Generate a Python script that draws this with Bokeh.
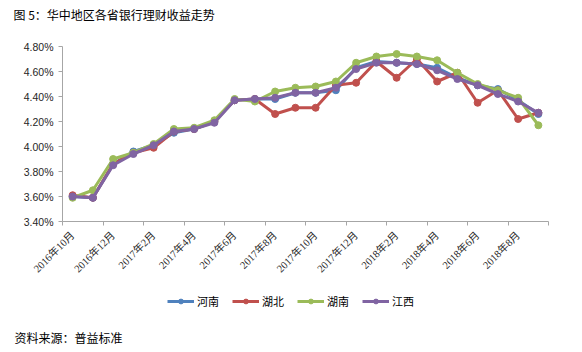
from bokeh.plotting import figure
from bokeh.layouts import column, row
from bokeh.models import (Legend, LegendItem, LinearAxis, FixedTicker, Spacer,
                          PrintfTickFormatter, Range1d, ColumnDataSource)
from bokeh.core.properties import value
from bokeh.embed import file_html
from bokeh.resources import INLINE

months = ["2016年10月", "2016年11月", "2016年12月", "2017年1月", "2017年2月", "2017年3月",
          "2017年4月", "2017年5月", "2017年6月", "2017年7月", "2017年8月", "2017年9月",
          "2017年10月", "2017年11月", "2017年12月", "2018年1月", "2018年2月", "2018年3月",
          "2018年4月", "2018年5月", "2018年6月", "2018年7月", "2018年8月", "2018年9月"]
henan = [3.60, 3.59, 3.86, 3.96, 4.01, 4.11, 4.14, 4.20, 4.37, 4.38, 4.38, 4.43,
         4.43, 4.45, 4.63, 4.68, 4.67, 4.66, 4.63, 4.55, 4.49, 4.46, 4.37, 4.26]
hubei = [3.61, 3.59, 3.86, 3.95, 3.99, 4.12, 4.14, 4.20, 4.37, 4.38, 4.26, 4.31,
         4.31, 4.49, 4.51, 4.68, 4.55, 4.70, 4.52, 4.59, 4.35, 4.45, 4.22, 4.27]
hunan = [3.59, 3.65, 3.90, 3.95, 4.02, 4.14, 4.15, 4.21, 4.38, 4.36, 4.44, 4.47,
         4.48, 4.52, 4.67, 4.72, 4.74, 4.72, 4.69, 4.59, 4.50, 4.45, 4.39, 4.17]
jiangxi = [3.60, 3.59, 3.85, 3.94, 4.01, 4.12, 4.14, 4.19, 4.37, 4.38, 4.39, 4.43,
           4.43, 4.47, 4.62, 4.67, 4.67, 4.66, 4.61, 4.54, 4.49, 4.42, 4.36, 4.27]
series_names = ["河南", "湖北", "湖南", "江西"]
colors = ["#4F81BD", "#C0504D", "#9BBB59", "#8064A2"]
y_ticks = [3.4, 3.6, 3.8, 4.0, 4.2, 4.4, 4.6, 4.8]
title_text = "图 5：华中地区各省银行理财收益走势"
source_text = "资料来源：普益标准"

CJK = "'Noto Sans CJK SC'"
SERIF = "'Liberation Serif', 'Noto Sans CJK SC'"
W = 582
series = [henan, hubei, hunan, jiangxi]


def blank_fig(h, width=W, fill="white"):
    # pixel-like coordinates, y measured upward from the bottom of this strip
    f = figure(width=width, height=h, output_backend="svg", toolbar_location=None,
               x_range=Range1d(0, width), y_range=Range1d(0, h),
               min_border=0, x_axis_location=None, y_axis_location=None)
    f.frame_align = False
    f.outline_line_color = None
    f.xgrid.visible = False
    f.ygrid.visible = False
    f.border_fill_color = fill
    f.background_fill_color = fill
    return f


def rule_row(h=2):
    # a thin black band from x=10 to x=568
    band = blank_fig(h, width=558, fill="#000000")
    return row(Spacer(width=10, height=h), band, Spacer(width=14, height=h), spacing=0)


# ---- title strip (27 px) + rule ----
top = blank_fig(27)
top.text(x=[13], y=[13.5], text=[title_text], text_font=value(CJK),
         text_font_size="12px", text_color="#000000", text_baseline="middle")

# ---- main chart (from y=29 to y=282) ----
n = len(months)
xs = list(range(n))
p = figure(width=W, height=253, output_backend="svg", toolbar_location=None,
           x_range=Range1d(-0.5, n - 0.5), y_range=Range1d(3.4, 4.8),
           min_border_left=62, min_border_right=34, min_border_top=17,
           min_border_bottom=61, x_axis_location=None, y_axis_location=None)
p.frame_align = False
p.outline_line_color = None
p.xgrid.visible = False
p.ygrid.visible = False
p.background_fill_color = "white"
p.border_fill_color = "white"

yax = LinearAxis(ticker=FixedTicker(ticks=y_ticks),
                 formatter=PrintfTickFormatter(format="%.2f%%"))
yax.axis_line_color = "#A6A6A6"
yax.major_tick_line_color = "#A6A6A6"
yax.major_tick_out = 4
yax.major_tick_in = 0
yax.minor_tick_line_color = None
yax.major_label_text_font = "'Liberation Sans'"
yax.major_label_text_font_size = "10.5px"
yax.major_label_text_color = "#262626"
yax.major_label_standoff = 5
p.add_layout(yax, "left")

label_ticks = list(range(0, n, 2))
xax = LinearAxis(ticker=FixedTicker(ticks=label_ticks,
                                    minor_ticks=[i - 0.5 for i in range(0, n + 1, 2)]),
                 major_label_overrides={i: months[i] for i in label_ticks})
xax.axis_line_color = "#A6A6A6"
xax.major_tick_line_color = None
xax.minor_tick_line_color = "#A6A6A6"
xax.minor_tick_out = 4
xax.minor_tick_in = 0
xax.major_label_orientation = 0.785398
xax.major_label_text_font = SERIF
xax.major_label_text_font_size = "10.5px"
xax.major_label_text_color = "#262626"
xax.major_label_standoff = 6
p.add_layout(xax, "below")

for vals, c in zip(series, colors):
    src = ColumnDataSource(dict(x=xs, y=vals))
    p.line("x", "y", source=src, line_color=c, line_width=3)
    p.scatter("x", "y", source=src, size=7, fill_color=c, line_color=c)

# ---- legend strip (37 px) ----
bot = blank_fig(37)
# legend proxies: same series on an off-screen range, so only their legend glyphs show
bot.extra_y_ranges = {"offscreen": Range1d(1000, 1001)}
items = []
for name, vals, c in zip(series_names, series, colors):
    src = ColumnDataSource(dict(x=xs, y=vals))
    lr = bot.line("x", "y", source=src, line_color=c, line_width=3, y_range_name="offscreen")
    cr = bot.scatter("x", "y", source=src, size=7, fill_color=c, line_color=c,
                     y_range_name="offscreen")
    items.append(LegendItem(label=name, renderers=[lr, cr]))
legend = Legend(items=items, orientation="horizontal", location=(167, 10),
                glyph_width=27, glyph_height=12, label_standoff=3, spacing=13,
                padding=0, margin=0, border_line_color=None,
                background_fill_alpha=0, label_text_font=CJK,
                label_text_font_size="11px", label_text_color="#000000",
                label_height=12)
bot.add_layout(legend, "center")

# ---- source strip (31 px) ----
foot = blank_fig(31)
foot.text(x=[14], y=[15.5], text=[source_text], text_font=value(CJK),
          text_font_size="12px", text_color="#000000", text_baseline="middle")

layout = column(top, rule_row(), p, bot, rule_row(), foot, spacing=0)
open("out.html", "w").write(file_html(layout, INLINE))
